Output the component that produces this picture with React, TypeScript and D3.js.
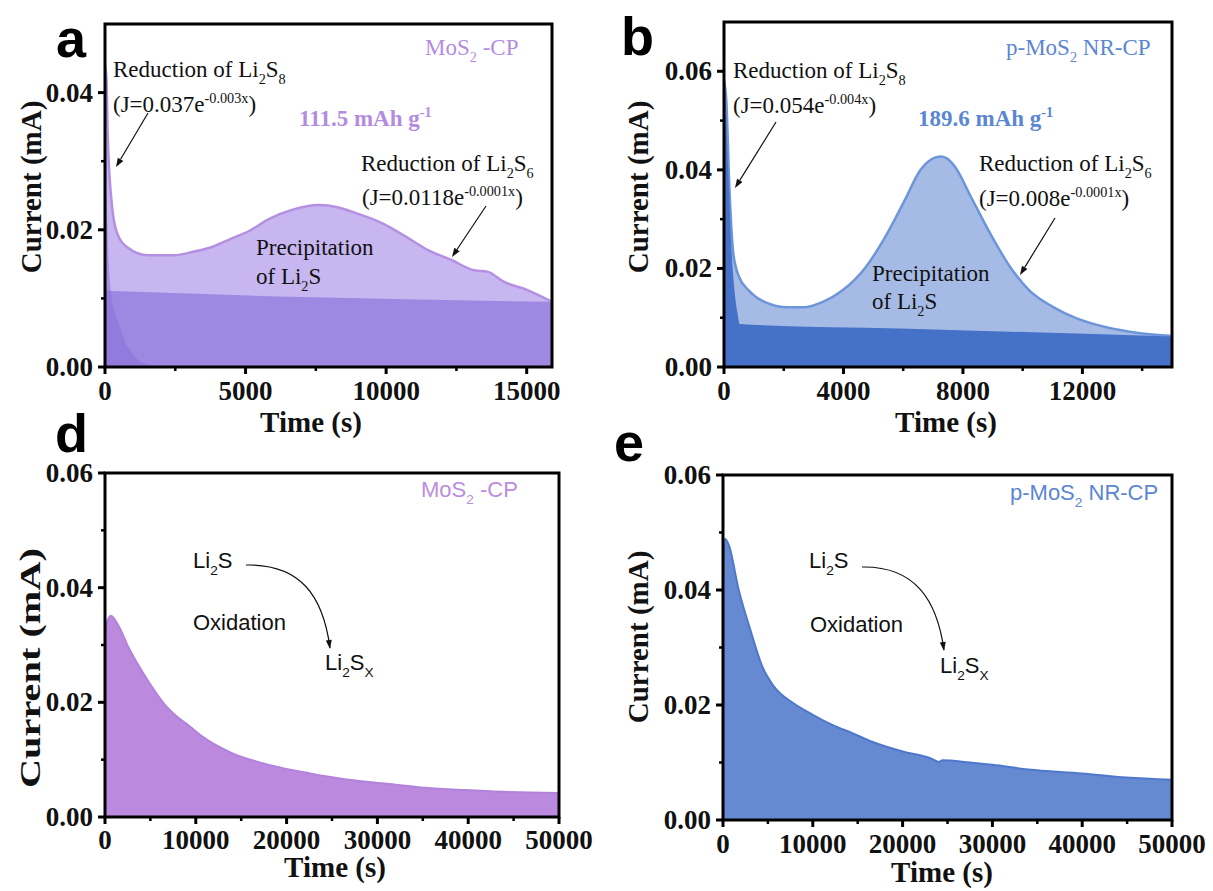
import React from 'react';
import * as d3 from 'd3';

type Pt = [number, number];

const SERIF = '"Liberation Serif", "Times New Roman", serif';
const SANS = '"Liberation Sans", Arial, sans-serif';

// ---- a: MoS2-CP, potentiostatic discharge (time s, current mA) ----
const aTotal: Pt[] = [
  [0, 0.044], [54, 0.0418], [95, 0.034], [230, 0.0243], [430, 0.0195], [840, 0.0173],
  [1510, 0.0163], [2460, 0.0163], [3135, 0.0168], [3810, 0.0175], [4490, 0.0187],
  [5160, 0.0199], [5840, 0.0216], [6650, 0.0229], [7600, 0.0236], [8270, 0.0233],
  [8950, 0.0224], [9890, 0.0209], [10700, 0.019], [11510, 0.017], [12320, 0.0156],
  [13130, 0.0141], [13600, 0.0139], [14200, 0.0124], [15030, 0.0112], [15900, 0.0095],
];
const aLi2S6: Pt[] = [[0, 0.0111], [7000, 0.0102], [15900, 0.0095]];
const aLi2S8: Pt[] = [
  [0, 0.044], [30, 0.03], [85, 0.0205], [200, 0.0113], [350, 0.008], [530, 0.0059],
  [700, 0.0038], [890, 0.0025], [1100, 0.0013], [1420, 0.0005], [1800, 0.0001],
];

// ---- b: p-MoS2 NR-CP, potentiostatic discharge ----
const bTotal: Pt[] = [
  [0, 0.058], [78, 0.054], [180, 0.0365], [313, 0.023], [510, 0.0182], [835, 0.0155],
  [1356, 0.0132], [2140, 0.0121], [2660, 0.0121], [3310, 0.0132], [3960, 0.0155],
  [4750, 0.0203], [5400, 0.0264], [6050, 0.0338], [6570, 0.0399], [6960, 0.0422],
  [7250, 0.0427], [7450, 0.0424], [7750, 0.0405], [8270, 0.0345], [8920, 0.027],
  [9580, 0.0203], [10230, 0.0155], [11010, 0.0122], [11790, 0.0099], [12840, 0.008],
  [13880, 0.0069], [15000, 0.0063],
];
const bLi2S6: Pt[] = [[0, 0.0089], [500, 0.0087], [5900, 0.0078], [15000, 0.0062]];
const bLi2S8: Pt[] = [
  [0, 0.058], [30, 0.0565], [145, 0.0397], [257, 0.0234], [400, 0.013], [512, 0.0087],
  [600, 0.004], [700, 0.0005],
];

// ---- d: MoS2-CP, potentiostatic charge ----
const dCharge: Pt[] = [
  [0, 0.031], [85, 0.0332], [640, 0.0351], [1500, 0.0333], [2550, 0.0297], [4680, 0.0239],
  [6800, 0.0192], [8000, 0.0174], [8940, 0.0163], [10640, 0.0141], [14040, 0.0111],
  [18300, 0.009], [22550, 0.0076], [26800, 0.0065], [31060, 0.0058], [35300, 0.0051],
  [39600, 0.0047], [43800, 0.0044], [50000, 0.0042],
];

// ---- e: p-MoS2 NR-CP, potentiostatic charge ----
const eCharge: Pt[] = [
  [0, 0.0441], [220, 0.0489], [650, 0.0478], [1750, 0.04], [3060, 0.033], [4370, 0.0267],
  [5680, 0.0232], [7860, 0.0203], [10000, 0.0183], [12230, 0.0165], [14410, 0.0151],
  [16600, 0.0136], [20000, 0.0119], [23140, 0.0107], [24020, 0.0101], [24450, 0.0104],
  [27500, 0.01], [30000, 0.0096], [34000, 0.0088], [40000, 0.0081], [44900, 0.0074],
  [50000, 0.007],
];

// ticks
const aXTicks = [0, 5000, 10000, 15000];
const aXMinor = [2500, 7500, 12500];
const aYTicks = [0, 0.02, 0.04];
const aYMinor = [0.01, 0.03];
const bXTicks = [0, 4000, 8000, 12000];
const bXMinor = [2000, 6000, 10000, 14000];
const bYTicks = [0, 0.02, 0.04, 0.06];
const bYMinor = [0.01, 0.03, 0.05];
const chXTicks = [0, 10000, 20000, 30000, 40000, 50000];
const chXMinor = [5000, 15000, 25000, 35000, 45000];
const chYTicks = [0, 0.02, 0.04, 0.06];
const chYMinor = [0.01, 0.03, 0.05];

const PURPLE_TXT = '#b38ce2';
const BLUE_TXT = '#5a86d2';

// Minimal markup: _{..} subscript, ^{..} superscript
function parse(s: string) {
  const out: { t: string; k: 'n' | 'sub' | 'sup' }[] = [];
  const re = /([_^])\{([^}]*)\}/g;
  let last = 0;
  let m: RegExpExecArray | null;
  while ((m = re.exec(s))) {
    if (m.index > last) out.push({ t: s.slice(last, m.index), k: 'n' });
    out.push({ t: m[2], k: m[1] === '_' ? 'sub' : 'sup' });
    last = re.lastIndex;
  }
  if (last < s.length) out.push({ t: s.slice(last), k: 'n' });
  return out;
}

function Rich(props: {
  x: number; y: number; s: string; size: number; family?: string; weight?: string | number;
  fill?: string; anchor?: string;
}) {
  const { x, y, s, size, family = SERIF, weight = 'normal', fill = '#111', anchor = 'start' } = props;
  let off = 0;
  const parts = parse(s).map((p, i) => {
    const target = p.k === 'sub' ? size * 0.3 : p.k === 'sup' ? -size * 0.4 : 0;
    const dy = target - off;
    off = target;
    return (
      <tspan key={i} dy={dy} fontSize={p.k === 'n' ? size : size * 0.62}>
        {p.t}
      </tspan>
    );
  });
  return (
    <text x={x} y={y} fontFamily={family} fontWeight={weight} fontSize={size} fill={fill} textAnchor={anchor as any}>
      {parts}
    </text>
  );
}

function Arrow({ x1, y1, x2, y2 }: { x1: number; y1: number; x2: number; y2: number }) {
  const ang = Math.atan2(y2 - y1, x2 - x1);
  const L = 9, W = 3.2;
  const bx = x2 - L * Math.cos(ang), by = y2 - L * Math.sin(ang);
  const px = -Math.sin(ang) * W, py = Math.cos(ang) * W;
  return (
    <g>
      <line x1={x1} y1={y1} x2={bx} y2={by} stroke="#111" strokeWidth={1.2} />
      <path d={`M${x2},${y2}L${bx + px},${by + py}L${bx - px},${by - py}Z`} fill="#111" />
    </g>
  );
}

function CurvedArrow({ d, tip, from }: { d: string; tip: Pt; from: Pt }) {
  const ang = Math.atan2(tip[1] - from[1], tip[0] - from[0]);
  const L = 9, W = 3;
  const bx = tip[0] - L * Math.cos(ang), by = tip[1] - L * Math.sin(ang);
  const px = -Math.sin(ang) * W, py = Math.cos(ang) * W;
  return (
    <g>
      <path d={d} fill="none" stroke="#111" strokeWidth={1.2} />
      <path d={`M${tip[0]},${tip[1]}L${bx + px},${by + py}L${bx - px},${by - py}Z`} fill="#111" />
    </g>
  );
}

type Box = { l: number; r: number; t: number; b: number };

function Panel(props: {
  id: string; box: Box; xMax: number; yMax: number;
  xTicks: number[]; xMinor: number[]; yTicks: number[]; yMinor: number[];
  xLabelY: number; xTitle: { x: number; y: number };
  yTitle: { x: number; y: number; len?: number };
  letter: { x: number; y: number; t: string };
  children: (x: d3.ScaleLinear<number, number>, y: d3.ScaleLinear<number, number>) => React.ReactNode;
}) {
  const { id, box, xMax, yMax } = props;
  const x = d3.scaleLinear().domain([0, xMax]).range([box.l, box.r]);
  const y = d3.scaleLinear().domain([0, yMax]).range([box.b, box.t]);
  const fy = d3.format('.2f');
  return (
    <g>
      <defs>
        <clipPath id={`clip-${id}`}>
          <rect x={box.l} y={box.t} width={box.r - box.l} height={box.b - box.t} />
        </clipPath>
      </defs>
      <g clipPath={`url(#clip-${id})`}>{props.children(x, y)}</g>
      <rect x={box.l} y={box.t} width={box.r - box.l} height={box.b - box.t} fill="none" stroke="#000" strokeWidth={3} />
      {props.xTicks.map((v) => (
        <g key={`xt${v}`}>
          <line x1={x(v)} x2={x(v)} y1={box.b} y2={box.b + 7} stroke="#000" strokeWidth={3} />
          <text x={x(v)} y={props.xLabelY} textAnchor="middle" fontFamily={SERIF} fontWeight="bold" fontSize={27} fill="#111">
            {v}
          </text>
        </g>
      ))}
      {props.xMinor.map((v) => (
        <line key={`xm${v}`} x1={x(v)} x2={x(v)} y1={box.b} y2={box.b + 4} stroke="#000" strokeWidth={2.5} />
      ))}
      {props.yTicks.map((v) => (
        <g key={`yt${v}`}>
          <line x1={box.l - 7} x2={box.l} y1={y(v)} y2={y(v)} stroke="#000" strokeWidth={3} />
          <text x={box.l - 12} y={y(v) + 9} textAnchor="end" fontFamily={SERIF} fontWeight="bold" fontSize={27} fill="#111">
            {fy(v)}
          </text>
        </g>
      ))}
      {props.yMinor.map((v) => (
        <line key={`ym${v}`} x1={box.l - 4} x2={box.l} y1={y(v)} y2={y(v)} stroke="#000" strokeWidth={2.5} />
      ))}
      <text x={props.xTitle.x} y={props.xTitle.y} textAnchor="middle" fontFamily={SERIF} fontWeight="bold" fontSize={29} fill="#111">
        Time (s)
      </text>
      <text
        transform={`translate(${props.yTitle.x},${props.yTitle.y}) rotate(-90)`}
        textAnchor="middle"
        fontFamily={SERIF}
        fontWeight="bold"
        fontSize={29}
        fill="#111"
        {...(props.yTitle.len ? { textLength: props.yTitle.len, lengthAdjust: 'spacingAndGlyphs' } : {})}
      >
        Current (mA)
      </text>
      <text x={props.letter.x} y={props.letter.y} fontFamily={SANS} fontWeight="bold" fontSize={54} fill="#000">
        {props.letter.t}
      </text>
    </g>
  );
}

function areaPath(x: d3.ScaleLinear<number, number>, y: d3.ScaleLinear<number, number>, data: Pt[]) {
  return d3.area<Pt>().x((d) => x(d[0])).y0(y(0)).y1((d) => y(d[1])).curve(d3.curveMonotoneX)(data) || '';
}
function linePath(x: d3.ScaleLinear<number, number>, y: d3.ScaleLinear<number, number>, data: Pt[]) {
  return d3.line<Pt>().x((d) => x(d[0])).y((d) => y(d[1])).curve(d3.curveMonotoneX)(data) || '';
}

export default function App() {
  return (
    <svg
      width={1213}
      height={891}
      viewBox="0 0 1213 891"
      style={{ position: 'absolute', left: 0, top: 0, background: '#fff' }}
    >
      <rect width={1213} height={891} fill="#fff" />

      {/* a */}
      <Panel
        id="a" box={{ l: 105, r: 552, t: 24, b: 367 }} xMax={15900} yMax={0.05}
        xTicks={aXTicks} xMinor={aXMinor} yTicks={aYTicks} yMinor={aYMinor}
        xLabelY={400} xTitle={{ x: 311, y: 432 }} yTitle={{ x: 41, y: 187 }}
        letter={{ x: 56, y: 57, t: 'a' }}
      >
        {(x, y) => (
          <g>
            <path d={areaPath(x, y, aTotal)} fill="#c7b6f0" />
            <path d={areaPath(x, y, aLi2S6)} fill="#9e88e2" />
            <path d={areaPath(x, y, aLi2S8)} fill="#8a70d8" fillOpacity={0.55} />
            <path d={linePath(x, y, aTotal)} fill="none" stroke="#b590e2" strokeWidth={2.5} />
          </g>
        )}
      </Panel>
      <Rich x={425} y={55} s="MoS_{2} -CP" size={23} fill={PURPLE_TXT} />
      <Rich x={113} y={77} s="Reduction of Li_{2}S_{8}" size={23} />
      <Rich x={113} y={112} s="(J=0.037e^{-0.003x})" size={23} />
      <Rich x={299} y={126} s="111.5 mAh g^{-1}" size={23} weight="bold" fill={PURPLE_TXT} />
      <Rich x={361} y={171} s="Reduction of Li_{2}S_{6}" size={23} />
      <Rich x={362} y={205} s="(J=0.0118e^{-0.0001x})" size={23} />
      <Rich x={256} y={255} s="Precipitation" size={23} />
      <Rich x={256} y={284} s="of Li_{2}S" size={23} />
      <Arrow x1={148} y1={113} x2={116} y2={167} />
      <Arrow x1={486} y1={206} x2={452} y2={257} />

      {/* b */}
      <Panel
        id="b" box={{ l: 724, r: 1172, t: 22, b: 367 }} xMax={15000} yMax={0.07}
        xTicks={bXTicks} xMinor={bXMinor} yTicks={bYTicks} yMinor={bYMinor}
        xLabelY={400} xTitle={{ x: 946, y: 432 }} yTitle={{ x: 648, y: 187 }}
        letter={{ x: 621, y: 55, t: 'b' }}
      >
        {(x, y) => (
          <g>
            <path d={areaPath(x, y, bTotal)} fill="#a5bbe5" />
            <path d={linePath(x, y, bTotal)} fill="none" stroke="#6d95d9" strokeWidth={2.5} />
            <path d={areaPath(x, y, bLi2S6)} fill="#4671c8" />
            <path d={areaPath(x, y, bLi2S8)} fill="#4671c8" />
          </g>
        )}
      </Panel>
      <Rich x={1006} y={55} s="p-MoS_{2} NR-CP" size={23} fill={BLUE_TXT} />
      <Rich x={733} y={78} s="Reduction of Li_{2}S_{8}" size={23} />
      <Rich x={733} y={113} s="(J=0.054e^{-0.004x})" size={23} />
      <Rich x={918} y={126} s="189.6 mAh g^{-1}" size={23} weight="bold" fill={BLUE_TXT} />
      <Rich x={979} y={171} s="Reduction of Li_{2}S_{6}" size={23} />
      <Rich x={979} y={206} s="(J=0.008e^{-0.0001x})" size={23} />
      <Rich x={872} y={281} s="Precipitation" size={23} />
      <Rich x={872} y={309} s="of Li_{2}S" size={23} />
      <Arrow x1={776} y1={122} x2={735} y2={188} />
      <Arrow x1={1055} y1={218} x2={1020} y2={275} />

      {/* d */}
      <Panel
        id="d" box={{ l: 105, r: 559, t: 473, b: 817 }} xMax={50000} yMax={0.06}
        xTicks={chXTicks} xMinor={chXMinor} yTicks={chYTicks} yMinor={chYMinor}
        xLabelY={849} xTitle={{ x: 335, y: 877 }} yTitle={{ x: 40, y: 668, len: 240 }}
        letter={{ x: 55, y: 452, t: 'd' }}
      >
        {(x, y) => (
          <g>
            <path d={areaPath(x, y, dCharge)} fill="#bb89de" />
            <path d={linePath(x, y, dCharge)} fill="none" stroke="#b382db" strokeWidth={2} />
          </g>
        )}
      </Panel>
      <Rich x={421} y={497} s="MoS_{2} -CP" size={22} family={SANS} fill="#bb8ce0" />
      <Rich x={193} y={568} s="Li_{2}S" size={22} family={SANS} />
      <Rich x={193} y={630} s="Oxidation" size={22} family={SANS} />
      <Rich x={325} y={670} s="Li_{2}S_{X}" size={22} family={SANS} />
      <CurvedArrow d="M246,565 C300,564 323,595 330,648" tip={[330, 649]} from={[326, 620]} />

      {/* e */}
      <Panel
        id="e" box={{ l: 723, r: 1172, t: 475, b: 820 }} xMax={50000} yMax={0.06}
        xTicks={chXTicks} xMinor={chXMinor} yTicks={chYTicks} yMinor={chYMinor}
        xLabelY={853} xTitle={{ x: 942, y: 882 }} yTitle={{ x: 648, y: 637 }}
        letter={{ x: 614, y: 461, t: 'e' }}
      >
        {(x, y) => (
          <g>
            <path d={areaPath(x, y, eCharge)} fill="#668ad1" />
            <path d={linePath(x, y, eCharge)} fill="none" stroke="#4f78cc" strokeWidth={2} />
          </g>
        )}
      </Panel>
      <Rich x={1010} y={500} s="p-MoS_{2} NR-CP" size={22} family={SANS} fill={BLUE_TXT} />
      <Rich x={809} y={568} s="Li_{2}S" size={22} family={SANS} />
      <Rich x={810} y={632} s="Oxidation" size={22} family={SANS} />
      <Rich x={940} y={673} s="Li_{2}S_{X}" size={22} family={SANS} />
      <CurvedArrow d="M862,567 C915,566 937,600 944,650" tip={[944, 651]} from={[940, 622]} />
    </svg>
  );
}
